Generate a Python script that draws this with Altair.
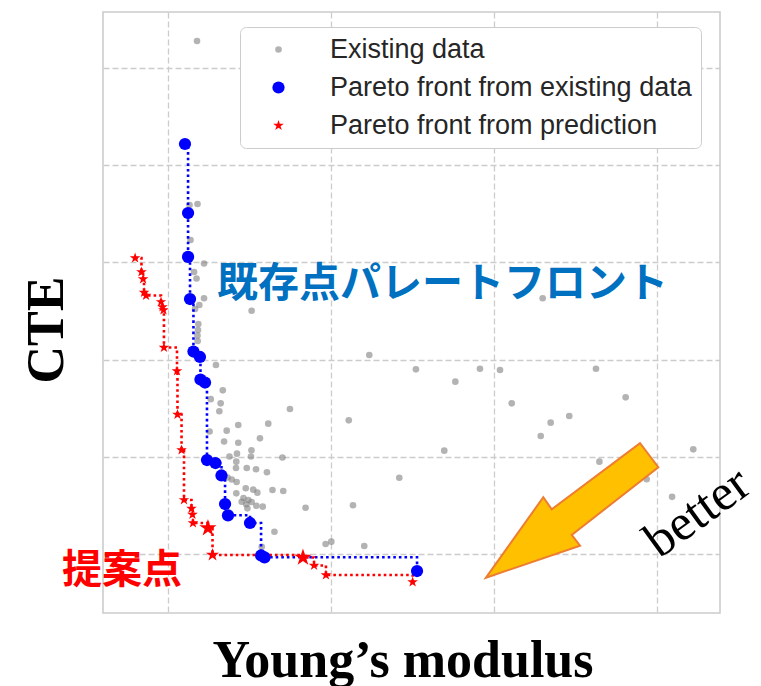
import altair as alt
import pandas as pd

# Existing materials: Young's modulus vs CTE (normalised units)
exist_E = [1.178, 1.132, 1.181, 1.138, 1.221, 1.160, 1.175, 1.221, 1.192, 1.166,
           1.513, 1.186, 1.184, 1.181, 1.182, 1.294, 1.336, 1.262, 1.323, 1.315,
           1.748, 1.360, 1.255, 1.431, 1.615, 1.344, 1.431, 1.564, 1.512, 1.423,
           1.377, 1.509, 1.702, 1.419, 1.417, 1.483, 1.540, 1.607, 1.365, 1.391,
           1.421, 1.477, 1.523, 1.548, 1.641, 1.707, 1.419, 1.463, 1.493, 1.513,
           1.452, 1.480, 1.487, 1.581, 1.542, 1.844, 1.653, 1.575, 1.967, 2.002,
           2.204, 2.235, 2.521, 2.109, 2.419, 2.135, 2.695, 2.763, 2.914, 3.037,
           3.109, 3.299, 3.287, 3.348, 3.462, 3.626, 3.647, 3.808, 3.937, 4.093,
           4.223]
exist_CTE = [6.278, 4.591, 4.601, 4.230, 3.989, 3.901, 3.834, 3.631, 3.562, 3.521,
             3.503, 3.366, 3.305, 3.248, 3.191, 2.944, 2.684, 2.593, 2.550, 2.468,
             2.492, 2.269, 2.260, 2.327, 2.341, 2.157, 2.145, 2.190, 2.067, 2.032,
             2.003, 2.003, 1.993, 1.950, 1.885, 1.885, 1.872, 1.841, 1.787, 1.766,
             1.741, 1.676, 1.662, 1.631, 1.658, 1.648, 1.624, 1.576, 1.556, 1.535,
             1.538, 1.512, 1.470, 1.487, 1.496, 1.476, 1.229, 1.075, 1.103, 1.127,
             1.082, 3.047, 2.900, 2.375, 1.785, 1.501, 2.063, 2.773, 2.906, 2.893,
             2.550, 3.631, 2.214, 2.351, 2.420, 2.906, 1.950, 2.612, 1.769, 1.588,
             2.077]

# Pareto front of the existing data
pareto_E = [1.104, 1.123, 1.123, 1.135, 1.156, 1.196, 1.199, 1.227, 1.239, 1.291,
            1.328, 1.350, 1.368, 1.503, 1.571, 1.592, 2.528]
pareto_CTE = [5.218, 4.508, 4.056, 3.623, 3.083, 3.027, 2.795, 2.764, 1.967, 1.936,
              1.808, 1.514, 1.398, 1.319, 0.985, 0.966, 0.825]

# Pareto front from the model prediction (marker: 0 regular, 1 / 2 proposed)
pred_E = [0.798, 0.837, 0.847, 0.853, 0.865, 0.957, 0.966, 0.972, 0.975, 1.055,
          1.058, 1.083, 1.098, 1.144, 1.150, 1.153, 1.245, 1.273, 1.828, 1.896,
          1.969, 2.501]
pred_CTE = [4.045, 3.901, 3.829, 3.690, 3.659, 3.593, 3.541, 3.510, 3.124, 2.883,
            2.435, 2.070, 1.556, 1.468, 1.406, 1.319, 1.267, 0.990, 0.964, 0.882,
            0.784, 0.712]
pred_mark = [0, 0, 0, 0, 0, 0, 0, 0, 0, 0, 0, 0, 0, 0, 0, 0, 2, 1, 2, 0, 0, 0]

# five-pointed star, unit outer radius
STAR = ("M 0 -1 L 0.225 -0.309 L 0.951 -0.309 L 0.363 0.118 L 0.588 0.809 "
        "L 0 0.382 L -0.588 0.809 L -0.363 0.118 L -0.951 -0.309 L -0.225 -0.309 Z")

series_names = ["Existing data", "Pareto front from existing data",
                "Pareto front from prediction"]
series_colors = ["#808080", "#0000ff", "#ff0000"]
series_shapes = ["circle", "circle", STAR]
series_sizes = [44, 150, 125]
series_opacity = [0.6, 1.0, 1.0]

x_ticks = [1, 2, 3, 4]
y_ticks = [1, 2, 3, 4, 5, 6]
x_domain = [0.601, 4.387]
y_domain = [0.393, 6.576]

# annotation positions (data units)
front_label = {"E": 1.300, "CTE": 3.765, "text": "既存点パレートフロント"}
proposal_label = {"E": 0.350, "CTE": 0.830, "text": "提案点"}
better_label = {"E": 4.250, "CTE": 1.425, "text": "better"}
arrow_pos = {"E": 3.479, "CTE": 1.448}
ARROW = ("M -0.997 0.779 L -0.333 -0.153 L -0.235 -0.014 L 0.788 -0.779 "
         "L 1 -0.501 L -0.003 0.284 L 0.093 0.408 Z")

exist_df = pd.DataFrame({"E": exist_E, "CTE": exist_CTE, "series": series_names[0]})
pareto_df = pd.DataFrame({"E": pareto_E, "CTE": pareto_CTE, "series": series_names[1],
                          "i": range(len(pareto_E))})
pred_df = pd.DataFrame({"E": pred_E, "CTE": pred_CTE, "series": series_names[2],
                        "i": range(len(pred_E)), "mark": pred_mark})

x_enc = alt.X("E:Q", scale=alt.Scale(domain=x_domain, nice=False, zero=False),
              axis=alt.Axis(values=x_ticks, labels=False, ticks=False, domain=False,
                            grid=True, gridDash=[6, 3], gridColor="#cccccc", gridWidth=1.3,
                            title="Young’s modulus", titleFont="Liberation Serif",
                            titleFontSize=52, titleFontWeight="bold", titleColor="black",
                            titleBaseline="alphabetic", titleX=299.5, titleY=63))
y_enc = alt.Y("CTE:Q", scale=alt.Scale(domain=y_domain, nice=False, zero=False),
              axis=alt.Axis(values=y_ticks, labels=False, ticks=False, domain=False,
                            grid=True, gridDash=[6, 3], gridColor="#cccccc", gridWidth=1.3,
                            title="CTE", titleFont="Liberation Serif", titleFontSize=52,
                            titleFontWeight="bold", titleColor="black", titleAngle=270,
                            titleBaseline="alphabetic", titleX=-41, titleY=317.5))

color_enc = alt.Color("series:N", scale=alt.Scale(domain=series_names, range=series_colors),
                      legend=alt.Legend(title=None))
shape_enc = alt.Shape("series:N", scale=alt.Scale(domain=series_names, range=series_shapes),
                      legend=alt.Legend(title=None))
size_enc = alt.Size("series:N", scale=alt.Scale(type="ordinal", domain=series_names,
                                                range=series_sizes),
                    legend=alt.Legend(title=None))
opacity_enc = alt.Opacity("series:N", scale=alt.Scale(type="ordinal", domain=series_names,
                                                      range=series_opacity),
                          legend=alt.Legend(title=None))

exist_layer = alt.Chart(exist_df).mark_point(filled=True, strokeWidth=0).encode(
    x=x_enc, y=y_enc, color=color_enc, shape=shape_enc, size=size_enc, opacity=opacity_enc)

pareto_line = alt.Chart(pareto_df).mark_line(
    interpolate="step-after", color="#0000ff", strokeWidth=2.6, strokeDash=[2.6, 3]
).encode(x="E:Q", y="CTE:Q", order="i:Q")

pred_line = alt.Chart(pred_df).mark_line(
    interpolate="step-after", color="#ff0000", strokeWidth=2.6, strokeDash=[2.6, 3]
).encode(x="E:Q", y="CTE:Q", order="i:Q")

pareto_pts = alt.Chart(pareto_df).mark_point(filled=True, strokeWidth=0).encode(
    x="E:Q", y="CTE:Q", color=color_enc, shape=shape_enc, size=size_enc, opacity=opacity_enc)

pred_pts = alt.Chart(pred_df).transform_filter("datum.mark == 0").mark_point(
    filled=True, strokeWidth=0).encode(
    x="E:Q", y="CTE:Q", color=color_enc, shape=shape_enc, size=size_enc, opacity=opacity_enc)

pred_mid = alt.Chart(pred_df).transform_filter("datum.mark == 1").mark_point(
    filled=True, strokeWidth=0, shape=STAR, color="#ff0000", size=190, opacity=1
).encode(x="E:Q", y="CTE:Q")

pred_big = alt.Chart(pred_df).transform_filter("datum.mark == 2").mark_point(
    filled=True, strokeWidth=0, shape=STAR, color="#ff0000", size=330, opacity=1
).encode(x="E:Q", y="CTE:Q")

front_text = alt.Chart(pd.DataFrame([front_label])).mark_text(
    align="left", baseline="middle", font="Noto Sans CJK JP", fontWeight="bold",
    fontSize=41, color="#0070c0"
).encode(x="E:Q", y="CTE:Q", text="text:N")

proposal_text = alt.Chart(pd.DataFrame([proposal_label])).mark_text(
    align="left", baseline="middle", font="Noto Sans CJK JP", fontWeight="bold",
    fontSize=40, color="#ff0000"
).encode(x="E:Q", y="CTE:Q", text="text:N")

better_text = alt.Chart(pd.DataFrame([better_label])).mark_text(
    align="center", baseline="middle", font="Liberation Serif", fontSize=51,
    angle=324, color="black"
).encode(x="E:Q", y="CTE:Q", text="text:N")

arrow = alt.Chart(pd.DataFrame([arrow_pos])).mark_point(
    shape=ARROW, filled=True, fill="#ffc000", stroke="#ed7d31", strokeWidth=2,
    size=29791, opacity=1, fillOpacity=1, strokeOpacity=1
).encode(x="E:Q", y="CTE:Q")

chart = alt.layer(
    exist_layer, pareto_line, pred_line, pareto_pts, pred_pts, pred_mid, pred_big,
    front_text, proposal_text, better_text, arrow
).properties(
    width=617, height=601,
    autosize=alt.AutoSizeParams(type="none"),
    padding={"left": 103, "top": 12, "right": 41, "bottom": 73},
    background="white",
).configure_view(
    stroke="#cccccc", strokeWidth=1.6
).configure_legend(
    orient="none", legendX=137, legendY=15, direction="vertical",
    labelFont="Liberation Sans", labelFontSize=27, labelColor="#262626",
    fillColor="white", strokeColor="#cccccc", cornerRadius=6, padding=9,
    rowPadding=10, symbolOffset=16, labelOffset=38, labelLimit=600,
    symbolStrokeWidth=0
)

chart.save("out.html", embed_options={"renderer": "svg", "actions": False})
